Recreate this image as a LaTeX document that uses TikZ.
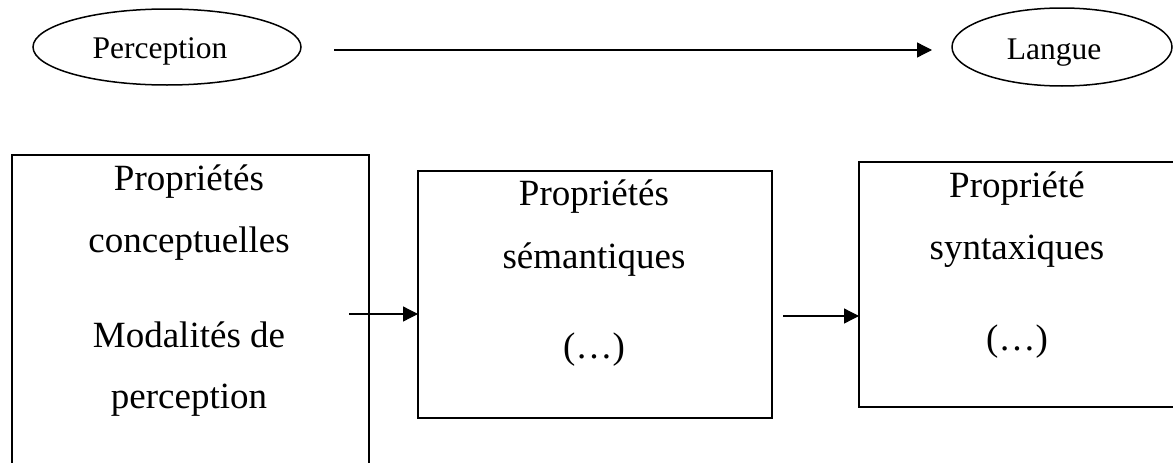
\documentclass[tikz,border=0pt]{standalone}
\usepackage{fontspec}
\setmainfont{Liberation Serif}
\usetikzlibrary{arrows.meta,shapes.geometric}
\begin{document}
\begin{tikzpicture}[x=1pt,y=-1pt,
  boxshape/.style={draw,rectangle,line width=2pt,inner sep=0pt,outer sep=0pt},
  ovalshape/.style={draw,ellipse,line width=1.5pt,inner sep=0pt,outer sep=0pt,minimum width=268pt,minimum height=76pt},
  bigtxt/.style={anchor=base,inner sep=0pt,font=\fontsize{37}{42}\selectfont},
  smalltxt/.style={anchor=base,inner sep=0pt,font=\fontsize{31.5}{36}\selectfont},
  arr/.style={line width=1.3pt,-{Triangle[length=15pt,width=15pt]}}]
\useasboundingbox (0,0) rectangle (1173,463);
\clip (0,0) rectangle (1173,463);
\fill[white] (0,0) rectangle (1173,463);

% ellipses
\node[ovalshape] (perc) at (167,47) {};
\node[ovalshape,minimum width=220pt,minimum height=78pt] (lang) at (1062,47) {};
\node[smalltxt] (perct) at (160,58) {Perception};
\node[smalltxt] (langt) at (1054,59) {Langue};
\coordinate (ts) at (334,50);
\coordinate (te) at (932,50);
\draw[arr] (ts) -- (te);

% boxes
\node[boxshape,minimum width=357pt,minimum height=335pt] (b1) at (190.5,322.5) {};
\node[boxshape,minimum width=354pt,minimum height=247pt] (b2) at (595,294.5) {};
\node[boxshape,minimum width=326pt,minimum height=245pt] (b3) at (1022,284.5) {};

% box 1 text
\node[bigtxt] (b1a) at (189,190) {Propriétés};
\node[bigtxt] (b1b) at (189,252) {conceptuelles};
\node[bigtxt] (b1c) at (189,347) {Modalités de};
\node[bigtxt] (b1d) at (189,408) {perception};

% box 2 text
\node[bigtxt] (b2a) at (594,205) {Propriétés};
\node[bigtxt] (b2b) at (594,268) {sémantiques};
\node[bigtxt] (b2c) at (594,358) {(…)};

% box 3 text
\node[bigtxt] (b3a) at (1017,197) {Propriété};
\node[bigtxt] (b3b) at (1017,259) {syntaxiques};
\node[bigtxt] (b3c) at (1017,350) {(…)};

% arrows between boxes
\coordinate (s1) at (349,314);
\coordinate (s2) at (783,316);
\draw[arr] (s1) -- (s1 -| b2.west);
\draw[arr] (s2) -- (s2 -| b3.west);
\end{tikzpicture}
\end{document}
